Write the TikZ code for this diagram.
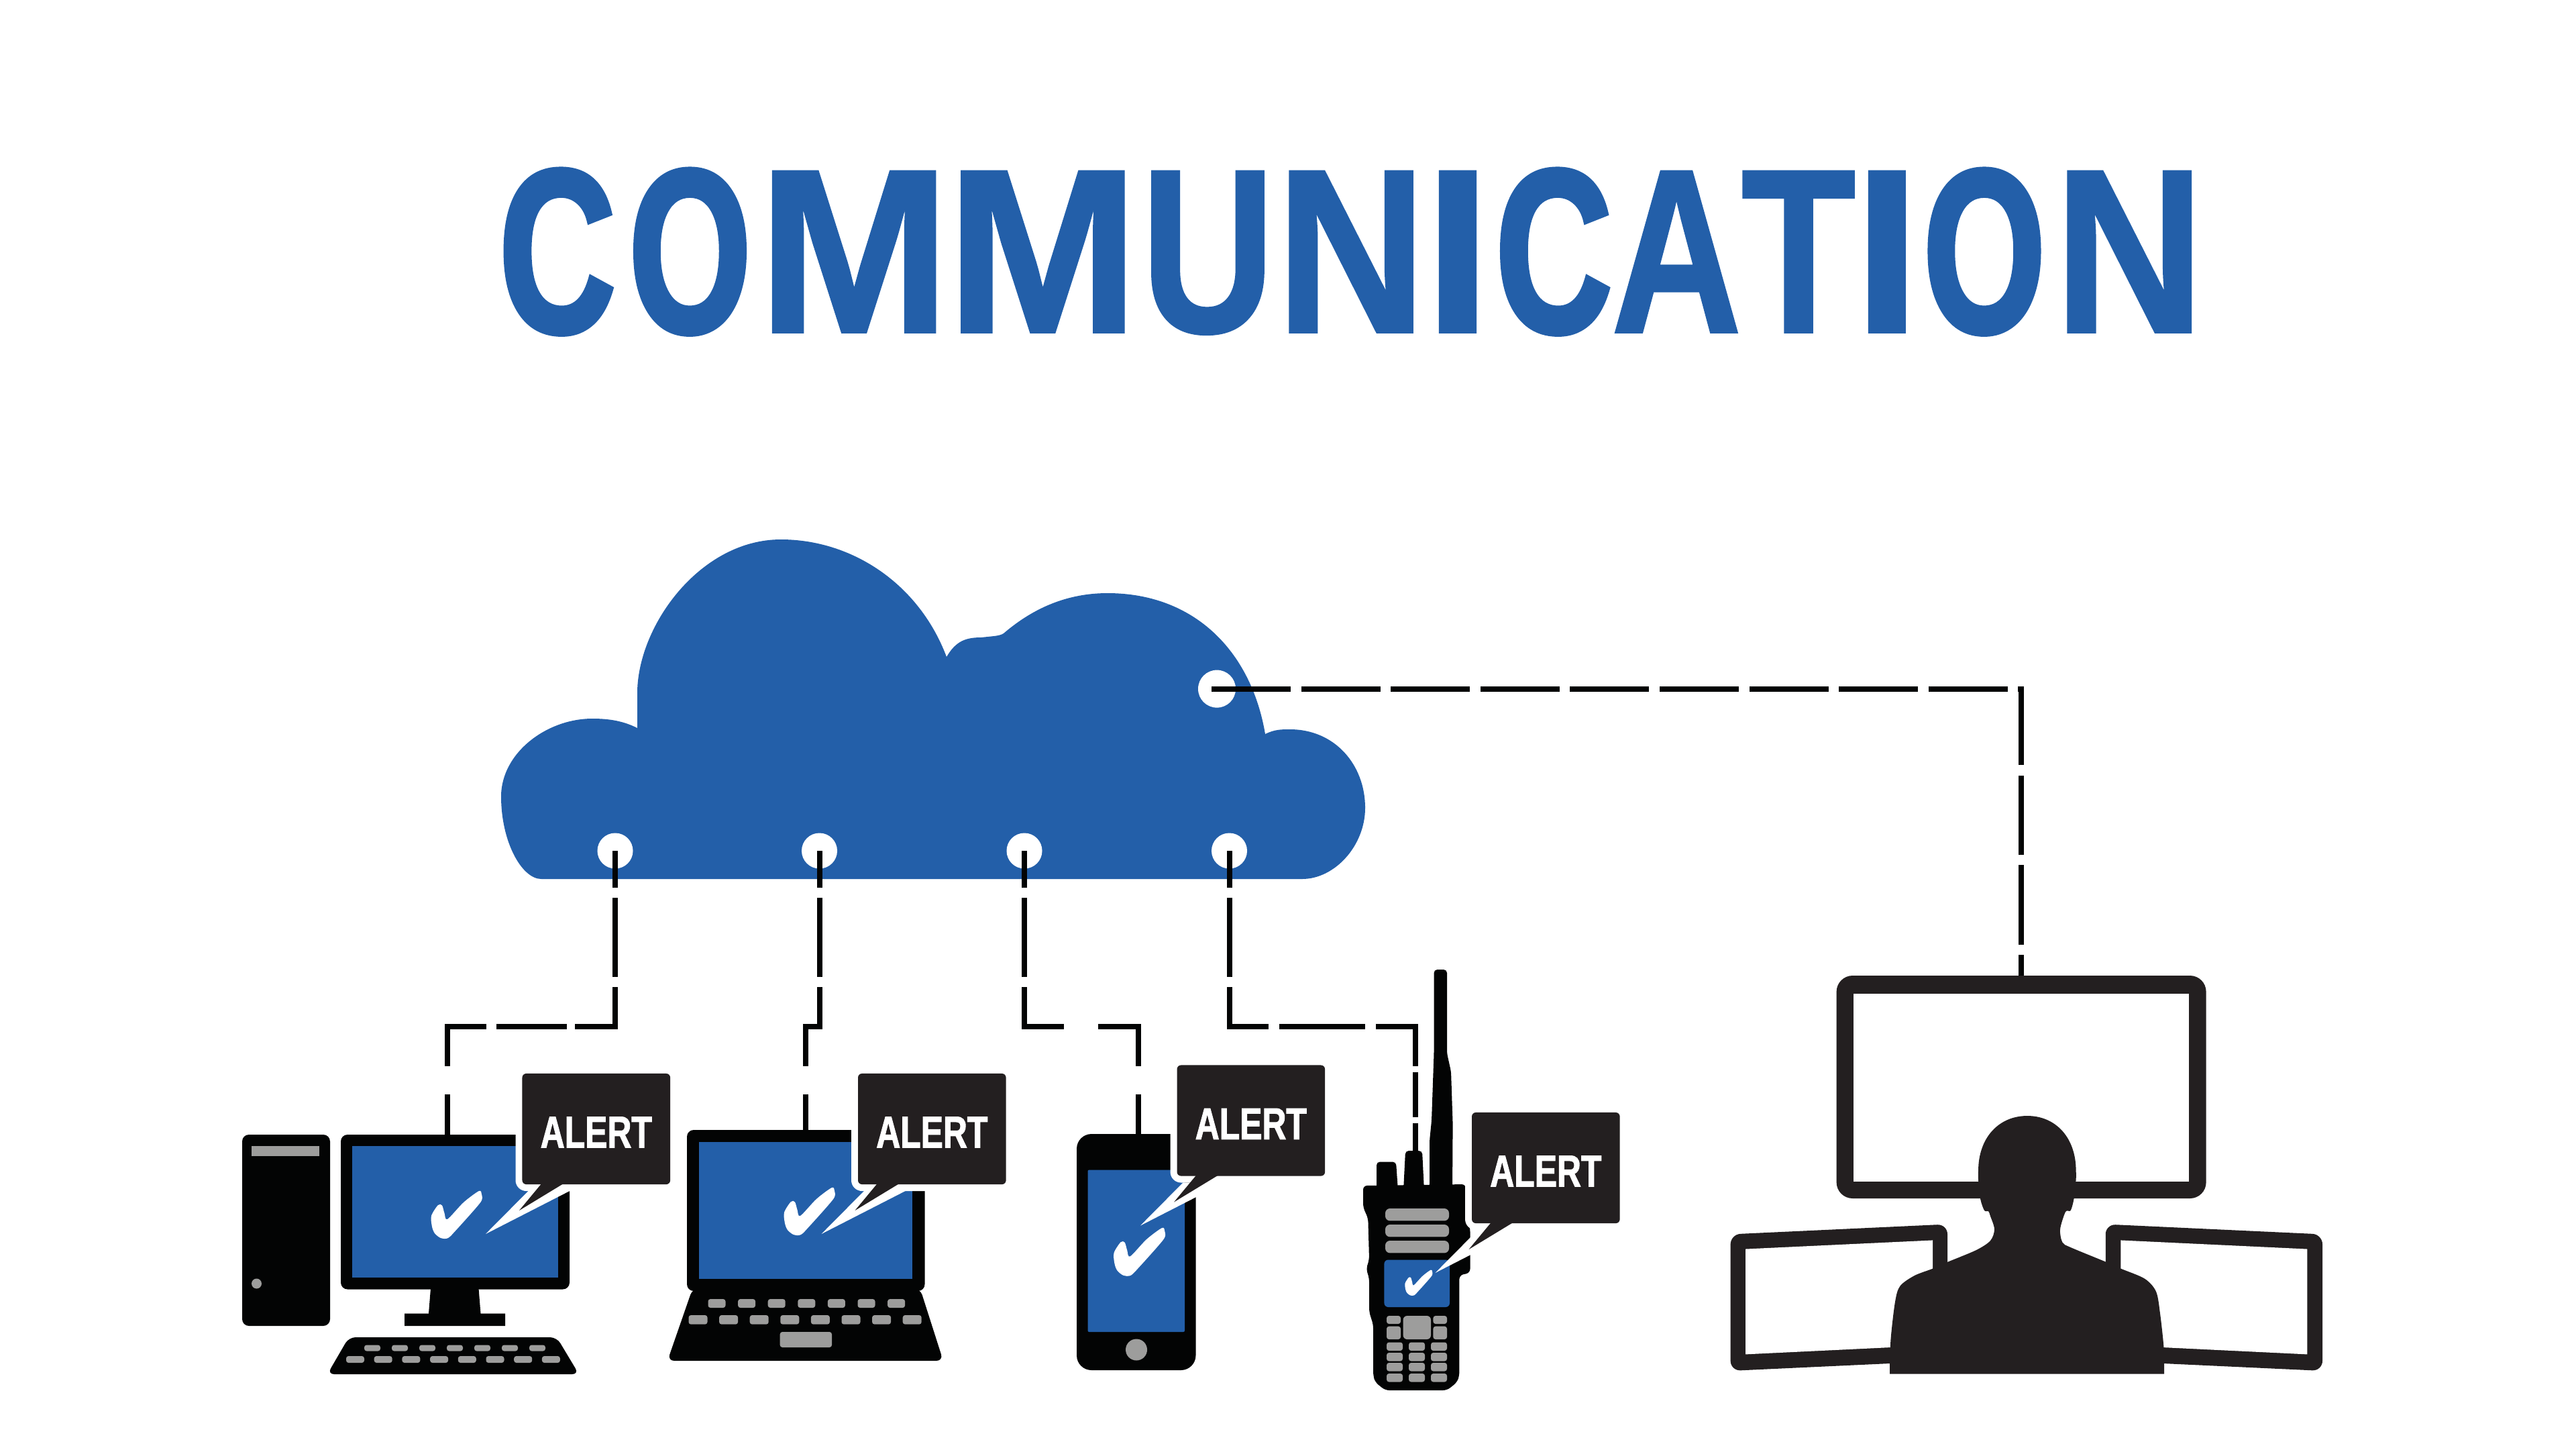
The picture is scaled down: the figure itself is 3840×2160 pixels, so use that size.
\documentclass[tikz,border=0pt]{standalone}
\usepackage{fontspec}
\setmainfont{Liberation Sans}
\newfontface\titleC[FakeStretch=.69,FakeBold=2]{Liberation Sans Bold}
\newfontface\titleO[FakeStretch=.67,FakeBold=2]{Liberation Sans Bold}
\newfontface\titleM[FakeStretch=.99,FakeBold=1]{Liberation Sans Bold}
\newfontface\titleU[FakeStretch=.79,FakeBold=1]{Liberation Sans Bold}
\newfontface\titleN[FakeStretch=.89,FakeBold=1]{Liberation Sans Bold}
\newfontface\titleI[FakeStretch=1.05,FakeBold=1]{Liberation Sans Bold}
\newfontface\titleA[FakeStretch=.77,FakeBold=1]{Liberation Sans Bold}
\newfontface\titleT[FakeStretch=.80,FakeBold=1]{Liberation Sans Bold}
\newfontface\alertfont[FakeStretch=.75,FakeBold=1.5]{Liberation Sans Bold}
\definecolor{brandblue}{HTML}{235FA9}
\definecolor{inkblack}{HTML}{030404}
\definecolor{softblack}{HTML}{231F20}
\definecolor{keygray}{HTML}{9D9D9C}
\usetikzlibrary{positioning}
\tikzset{x=0.01cm,y=-0.01cm,
    heading/.style={text=brandblue,inner sep=0,font=\fontsize{99}{99}\selectfont},
    alertbox/.style={fill=softblack,text=white,rounded corners=.6mm,inner sep=0,minimum width=22.05mm,minimum height=16.5mm,text height=5.55mm,text depth=0pt,font=\fontsize{18.9}{19}\selectfont\alertfont},
    clouddot/.style={circle,fill=white,inner sep=0,minimum size=5.3mm},
    wire/.style={draw=inkblack,line width=.8mm},
    keycap/.style={fill=keygray,rounded corners=.35mm},
    body/.style={fill=inkblack,rounded corners=1mm},
    screen/.style={fill=brandblue}}
\newcommand{\drawCheck}[3]{\fill[white,shift={(#1,#2)},scale=#3] plot[smooth cycle,tension=.5] coordinates {(0,37) (10,21) (16,21.5) (19.5,33) (24,42) (48,17) (71,0) (75,5) (75,14) (64,28) (38,57) (25,70) (14,70) (5,63) (1,53)};}
\newcommand{\drawAlert}[3]{
\begin{scope}[shift={(#2,#3)}]
\fill[white,rounded corners=1.6mm] (-10,-10) rectangle (230,175);
\fill[white] (9,175) -- (-54.5,239) -- (70.5,175) -- cycle;
\fill[softblack] (32,160) -- (-4.5,204) -- (68,160) -- cycle;
\node[alertbox] (#1) at (110.3,82.5) {ALERT};
\end{scope}}

\begin{document}
\begin{tikzpicture}
\useasboundingbox (0,0) rectangle (3840,2160);
\node[heading,anchor=base west] (title) at (743.5,495) {\titleC C\kern2.02mm\titleO O\kern1.02mm\titleM M\kern-.59mm M\kern.34mm\titleU U\kern.24mm\titleN N\kern-.38mm\titleI I\kern.58mm\titleC C\kern-.08mm\titleA A\kern.02mm\titleT T\kern-.41mm\titleI I\kern.37mm\titleO O\kern1.36mm\titleN N};

\fill[brandblue] (807,1310) .. controls (778,1310) and (747,1255) .. (747,1187)
 .. controls (747,1122) and (815,1071) .. (883,1071)
 .. controls (910,1071) and (930,1075) .. (950,1085) -- (950,1030)
 .. controls (952,930) and (1045,804) .. (1164,804)
 .. controls (1270,804) and (1370,870) .. (1411,979)
 .. controls (1425,955) and (1440,950) .. (1463,950)
 .. controls (1480,948) and (1490,948) .. (1496,944)
 .. controls (1530,915) and (1580,884) .. (1651,884)
 .. controls (1780,884) and (1865,970) .. (1886,1094)
 .. controls (1900,1087) and (1910,1087) .. (1923,1087)
 .. controls (1990,1087) and (2035,1140) .. (2035,1204)
 .. controls (2035,1260) and (1990,1310) .. (1941,1310) -- cycle;
\node[clouddot] (dotA) at (917,1268) {};
\node[clouddot] (dotB) at (1221.5,1268) {};
\node[clouddot] (dotC) at (1527,1268) {};
\node[clouddot] (dotD) at (1832.5,1268) {};
\node[clouddot,minimum size=5.6mm] (dotE) at (1814,1026.6) {};

\fill[body] (361,1691) rectangle (492,1976);
\fill[keygray] (375,1708) rectangle (476,1723);
\fill[keygray] (382.5,1913) ellipse (7.5 and 7.5);
\fill[body] (508,1691) rectangle (849,1921.5);
\fill[screen] (524.5,1708) rectangle (832,1904);
\fill[inkblack] (642,1920) -- (713.5,1920) -- (716.5,1957.5) -- (753,1957.5) -- (753,1976) -- (603,1976) -- (603,1957.5) -- (639,1957.5) -- cycle;
\fill[body] (520,1993) -- (830,1993) -- (863,2048) -- (488,2048) -- cycle;
\foreach \kx in {0,...,6} \fill[keycap] (543+\kx*41,2004.5) rectangle ++(24,9);
\foreach \kx in {0,...,7} \fill[keycap] (516+\kx*41.7,2021) rectangle ++(27,10);
\drawCheck{643}{1775}{1}

\fill[body] (1024,1684) rectangle (1378.5,1924);
\fill[screen] (1042,1701.5) rectangle (1360,1906);
\fill[body] (1032.5,1920) -- (1371.5,1920) -- (1406,2028) -- (995,2028) -- cycle;
\foreach \kx in {0,...,6} \fill[keycap] (1055.5+\kx*44.6,1936) rectangle ++(26,13);
\foreach \kx in {0,...,7} \fill[keycap] (1026.5+\kx*45.6,1960) rectangle ++(28,13.7);
\fill[keycap] (1162.7,1985) rectangle (1240,2008);
\drawCheck{1169}{1770}{1}

\fill[inkblack,rounded corners=2.2mm] (1605,1690) rectangle (1782.5,2042);
\fill[screen,rounded corners=.2mm] (1621.5,1743.5) rectangle (1766,1985);
\fill[keygray] (1694,2011.5) circle (16);
\drawCheck{1660.5}{1830}{1.01}

\fill[inkblack,rounded corners=.5mm] (2137.5,1445) -- (2157,1445) -- (2157,1570) -- (2163,1597) -- (2165.6,1675) -- (2165,1775) -- (2131,1775) -- (2131,1700) -- (2134,1670) -- (2137.5,1570) -- cycle;
\fill[inkblack,rounded corners=.5mm] (2052,1775) -- (2052,1731.5) -- (2081,1731.5) -- (2084,1775) -- cycle;
\fill[inkblack,rounded corners=.5mm] (2092,1775) -- (2095,1715) -- (2120,1715) -- (2123,1775) -- cycle;
\fill[inkblack,rounded corners=.6mm] (2032,1767) -- (2185,1765) -- (2185,1813) -- (2191.5,1830) -- (2191.5,1897) -- (2175.4,1900.5) -- (2175.4,2050) -- (2172,2060) -- (2157,2072) -- (2065,2072) -- (2050,2060) -- (2047,2050) -- (2047,1974) -- (2041,1955.6) -- (2041,1905) -- (2036.5,1891) -- (2041,1877.5) -- (2039.3,1815.5) -- (2032,1799.5) -- cycle;
\foreach \ky in {1801,1825,1849} \fill[keycap,rounded corners=.7mm] (2065,\ky) rectangle ++(95,18.4);
\fill[screen,rounded corners=.6mm] (2063.4,1877.5) rectangle (2161,1948);
\fill[keycap] (2067,1961) rectangle (2088,1973);
\fill[keycap] (2136.4,1961) rectangle (2157,1973);
\fill[keycap] (2067,1976.7) rectangle (2088,1996);
\fill[keycap] (2136.4,1976.7) rectangle (2157,1996);
\fill[keycap,rounded corners=.6mm] (2091.6,1961) rectangle (2133,1996);
\foreach \ky in {2000.5,2016,2031,2047} \foreach \kx in {2067,2100,2133} \fill[keycap] (\kx,\ky) rectangle ++(24,12.5);
\drawCheck{2094.5}{1892.6}{.54}

\drawAlert{alertA}{778.5}{1600}
\drawAlert{alertB}{1279}{1600}
\drawAlert{alertC}{1754.5}{1587.5}
\drawAlert{alertD}{2194}{1658}

\fill[softblack,rounded corners=2.4mm] (2737.6,1454) rectangle (3288.6,1786);
\fill[white] (2762.7,1480.7) rectangle (3263,1761);
\fill[softblack,rounded corners=1.5mm] (2579.6,1839.5) -- (2903,1824.5) -- (2903,2028) -- (2579.6,2043) -- cycle;
\fill[white] (2602,1861.5) -- (2881,1848.4) -- (2881,2005) -- (2602,2018.4) -- cycle;
\fill[softblack,rounded corners=1.5mm] (3462,1839.5) -- (3138.7,1824.5) -- (3138.7,2028) -- (3462,2043) -- cycle;
\fill[white] (3439.3,1861.5) -- (3161.4,1848.4) -- (3161.4,2005) -- (3439.3,2018.4) -- cycle;
\fill[softblack] (2817,2047.5) -- plot[smooth,tension=.5] coordinates {(2817,2047.5) (2818.4,1997) (2825,1940) (2832.5,1916.5) (2854,1901) (2881.5,1890.5) (2904,1880.5) (2946,1863) (2967,1849) (2973,1832) (2967,1812.5) (2964,1805) (2958,1804) (2952,1786.5) (2949,1758) (2949,1745)}
 .. controls (2949,1695) and (2980,1663) .. (3022,1663) .. controls (3064,1663) and (3094.6,1695) .. (3094.6,1745)
 -- plot[smooth,tension=.5] coordinates {(3094.6,1745) (3094.6,1758) (3091.5,1786.5) (3086.6,1804) (3079,1806) (3071,1832) (3074.4,1851.5) (3086.6,1859) (3138.7,1880.5) (3161,1890.5) (3197,1905.7) (3214,1925) (3220,1957.7) (3225.6,2010) (3226,2047.5)} -- cycle;

\coordinate (busY) at (0,1530);
\coordinate (pcTop) at (667,1691);
\coordinate (laptopTop) at (1201,1684);
\coordinate (phoneTop) at (1697,1690);
\coordinate (radioTop) at (2110,1717);
\coordinate (wallTop) at (3012.5,1454);
\draw[wire,dash pattern=on 5.5mm off 1.5mm on 11.8mm off 1.5mm on 11.9mm off 1.2mm on 10.5mm off 1.5mm on 11.7mm off 4.2mm on 6mm off 10mm]
 (dotA.center) -- (dotA |- busY) -- (pcTop |- busY) -- (pcTop);
\draw[wire,dash pattern=on 5.5mm off 1.5mm on 11.8mm off 1.5mm on 13.85mm off 4.2mm on 5.3mm off 10mm]
 (dotB.center) -- (dotB |- busY) -- (laptopTop |- busY) -- (laptopTop);
\draw[wire,dash pattern=on 5.5mm off 1.5mm on 11.8mm off 1.5mm on 11.8mm off 5.1mm on 11.84mm off 4.2mm on 6mm off 10mm]
 (dotC.center) -- (dotC |- busY) -- (phoneTop |- busY) -- (phoneTop);
\draw[wire,dash pattern=on 5.5mm off 1.5mm on 11.8mm off 1.5mm on 11.75mm off 1.6mm on 12.8mm off 1.6mm on 11.8mm off .84mm on 6.76mm off .9mm on 4.3mm off 10mm]
 (dotD.center) -- (dotD |- busY) -- (radioTop |- busY) -- (radioTop);
\draw[wire,dash pattern=on 11.8mm off 1.55mm]
 (dotE.center) ++(-8,0) -- (wallTop |- dotE) -- (wallTop);
\end{tikzpicture}
\end{document}
